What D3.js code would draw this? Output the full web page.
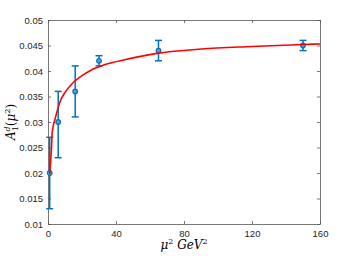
<!DOCTYPE html>
<html>
<head>
<meta charset="utf-8">
<script src="https://cdn.jsdelivr.net/npm/d3@7"></script>
<style>
  body { margin: 0; background: #fff; }
  .ejes text { font-family: 'Liberation Sans', Arial, sans-serif; font-size: 9.5px; fill: #262626; }
  .ejes path, .ejes line { stroke: #555; stroke-width: 0.8; }
  .tex { font-family: 'DejaVu Serif', 'Liberation Serif', serif; font-style: italic; fill: #000; }
</style>
</head>
<body>
<div id="graf"></div>
<script>
// measured points: mu^2, A1d, error low, error high
const mu2 = [1, 6, 16, 30, 65, 150]
const a1d = [0.020, 0.030, 0.036, 0.042, 0.044, 0.045]
const errLow = [0.013, 0.023, 0.031, 0.041, 0.042, 0.044]
const errHigh = [0.027, 0.036, 0.041, 0.043, 0.046, 0.046]

// red curve
const curveX = [1, 2, 2.5, 4.5, 7.5, 10, 15, 20, 25, 35, 45, 65, 90, 120, 150, 160]
const curveY = [0.0198, 0.0245, 0.0280, 0.0310, 0.0343, 0.0358, 0.0378, 0.0391, 0.0401, 0.0414, 0.0422, 0.0435, 0.0443, 0.0448, 0.0452, 0.0453]

const xTicks = [0, 40, 80, 120, 160]
const yTicks = [0.01, 0.015, 0.02, 0.025, 0.03, 0.035, 0.04, 0.045, 0.05]

const anchoTotal = 354
const altoTotal = 258
const margin = { top: 20, bottom: 34, left: 48, right: 34 }
const ancho = anchoTotal - margin.left - margin.right
const alto = altoTotal - margin.top - margin.bottom

const svg = d3.select('#graf')
  .append('svg')
  .attr('width', anchoTotal)
  .attr('height', altoTotal)

const g = svg.append('g')
  .attr('transform', `translate(${margin.left}, ${margin.top})`)

const x = d3.scaleLinear().domain([0, 160]).range([0, ancho])
const y = d3.scaleLinear().domain([0.01, 0.05]).range([alto, 0])

// axes (box with inward ticks)
g.append('g').attr('class', 'ejes')
  .attr('transform', `translate(0, ${alto})`)
  .call(d3.axisBottom(x).tickValues(xTicks).tickSize(-3).tickPadding(6).tickSizeOuter(0))
g.append('g').attr('class', 'ejes')
  .call(d3.axisTop(x).tickValues(xTicks).tickSize(-3).tickFormat('').tickSizeOuter(0))
g.append('g').attr('class', 'ejes')
  .call(d3.axisLeft(y).tickValues(yTicks).tickSize(-3).tickPadding(5).tickSizeOuter(0)
    .tickFormat(d => d3.format('')(+d.toFixed(3))))
g.append('g').attr('class', 'ejes')
  .attr('transform', `translate(${ancho}, 0)`)
  .call(d3.axisRight(y).tickValues(yTicks).tickSize(-3).tickFormat('').tickSizeOuter(0))

const pts = mu2.map((m, i) => ({ m, v: a1d[i], lo: errLow[i], hi: errHigh[i] }))
const azul = '#0072BD'
const cap = 3.5

const eb = g.append('g').selectAll('g').data(pts).enter().append('g')
  .attr('stroke', azul).attr('stroke-width', 1.5)
eb.append('line')
  .attr('x1', d => x(d.m)).attr('x2', d => x(d.m))
  .attr('y1', d => y(d.lo)).attr('y2', d => y(d.hi))
eb.append('line')
  .attr('x1', d => x(d.m) - cap).attr('x2', d => x(d.m) + cap)
  .attr('y1', d => y(d.lo)).attr('y2', d => y(d.lo))
eb.append('line')
  .attr('x1', d => x(d.m) - cap).attr('x2', d => x(d.m) + cap)
  .attr('y1', d => y(d.hi)).attr('y2', d => y(d.hi))
eb.append('circle')
  .attr('cx', d => x(d.m)).attr('cy', d => y(d.v))
  .attr('r', 2.3)
  .attr('fill', '#5a9fd0')
  .attr('stroke-width', 1.2)

const linea = d3.line()
  .x(d => x(d[0]))
  .y(d => y(d[1]))
  .curve(d3.curveMonotoneX)

g.append('path')
  .datum(curveX.map((c, i) => [c, curveY[i]]))
  .attr('d', linea)
  .attr('fill', 'none')
  .attr('stroke', '#ff0000')
  .attr('stroke-width', 1.6)

// x label
const xl = svg.append('text').attr('class', 'tex')
  .attr('x', margin.left + ancho / 2).attr('y', 249)
  .attr('text-anchor', 'middle').attr('font-size', 12)
xl.append('tspan').text('μ')
xl.append('tspan').attr('font-size', 8).attr('dy', -5).attr('font-style', 'normal').text('2')
xl.append('tspan').attr('dy', 5).text(' GeV')
xl.append('tspan').attr('font-size', 8).attr('dy', -5).attr('font-style', 'normal').text('2')

// y label
const yl = svg.append('text').attr('class', 'tex')
  .attr('transform', `translate(15, ${margin.top + alto / 2}) rotate(-90)`)
  .attr('text-anchor', 'middle').attr('font-size', 12)
yl.append('tspan').text('A')
yl.append('tspan').attr('font-size', 8).attr('dy', -5).text('d')
yl.append('tspan').attr('font-size', 8).attr('dx', -5).attr('dy', 8).attr('font-style', 'normal').text('1')
yl.append('tspan').attr('dy', -3).attr('font-style', 'normal').text('(')
yl.append('tspan').text('μ')
yl.append('tspan').attr('font-size', 8).attr('dy', -5).attr('font-style', 'normal').text('2')
yl.append('tspan').attr('dy', 5).attr('font-style', 'normal').text(')')
</script>
</body>
</html>
